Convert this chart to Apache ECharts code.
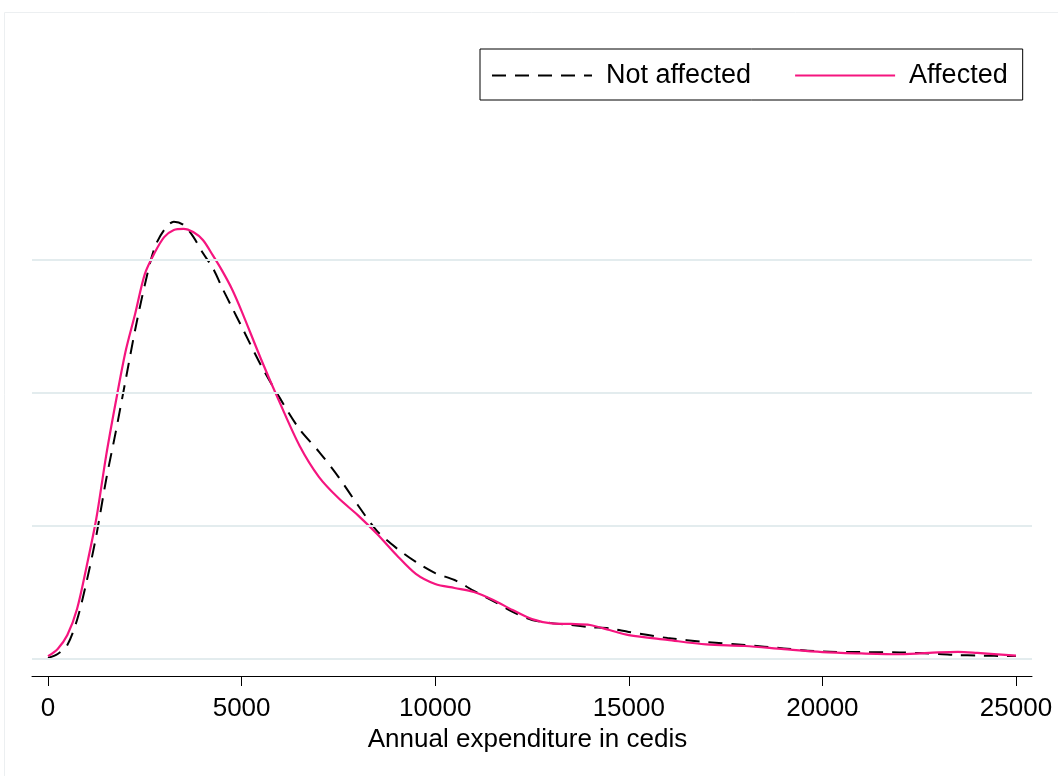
<!DOCTYPE html>
<html>
<head>
<meta charset="utf-8">
<script src="https://cdn.jsdelivr.net/npm/echarts@6/dist/echarts.min.js"></script>
<style>
  html, body { margin: 0; padding: 0; background: #ffffff; }
  #chart { width: 1058px; height: 776px; }
</style>
</head>
<body>
<div id="chart"></div>
<script>
// Kernel density of annual expenditure (density values in units of 1e-5)
const expenditure = [0, 250, 500, 750, 1000, 1250, 1500, 1750, 2000, 2250, 2500, 2750, 3000, 3250, 3500, 3750,
  4000, 4250, 4500, 4750, 5000, 5500, 6000, 6500, 7000, 7500, 8000, 8500, 9000, 9500, 10000, 10500, 11000,
  11500, 12000, 12500, 13000, 13500, 14000, 14500, 15000, 16000, 17000, 18000, 19000, 20000, 21000, 22000,
  23000, 23500, 24000, 25000];

const notAffected = [0.02, 0.17, 0.51, 1.45, 2.91, 4.64, 6.71, 8.52, 10.43, 12.35, 14.04, 15.43, 16.11, 16.42, 16.30, 15.86,
  15.24, 14.7, 13.93, 13.2, 12.48, 11.02, 9.76, 8.61, 7.77, 6.83, 5.77, 4.79, 4.15, 3.63, 3.21, 2.95, 2.54,
  2.16, 1.75, 1.45, 1.33, 1.26, 1.18, 1.13, 1.0, 0.77, 0.62, 0.51, 0.38, 0.26, 0.24, 0.23,
  0.17, 0.13, 0.11, 0.09];

const affected = [0.09, 0.36, 0.88, 1.86, 3.48, 5.28, 7.61, 9.64, 11.52, 12.95, 14.45, 15.24, 15.84, 16.11, 16.15, 16.03,
  15.73, 15.17, 14.57, 13.89, 13.06, 11.26, 9.57, 7.99, 6.82, 6.03, 5.39, 4.68, 3.89, 3.18, 2.80, 2.65, 2.50,
  2.20, 1.82, 1.48, 1.32, 1.30, 1.26, 1.07, 0.88, 0.70, 0.53, 0.47, 0.35, 0.24, 0.19, 0.16,
  0.23, 0.25, 0.21, 0.11];

const xTicks = [0, 5000, 10000, 15000, 20000, 25000];
const yGrid = [0, 5, 10, 15];
const seriesNames = ['Not affected', 'Affected'];

const pairs = (ys) => expenditure.map((x, i) => [x, ys[i]]);

const FONT = '"Liberation Sans", Arial, sans-serif';
const chart = echarts.init(document.getElementById('chart'), null, { renderer: 'canvas' });

chart.setOption({
  animation: false,
  backgroundColor: '#ffffff',
  textStyle: { fontFamily: FONT },
  graphic: [{
    type: 'rect',
    shape: { x: 4.5, y: 12.5, width: 1100, height: 800 },
    style: { fill: 'none', stroke: '#eceff1', lineWidth: 1 },
    silent: true,
    z: 0
  }],
  grid: { left: 32, right: 26, top: 40, bottom: 117.5 },
  legend: {
    left: 480,
    top: 49,
    orient: 'horizontal',
    data: seriesNames,
    itemWidth: 100,
    itemHeight: 14,
    itemGap: 43,
    padding: [13, 15, 11, 11],
    borderColor: '#000000',
    borderWidth: 1,
    borderRadius: 0,
    backgroundColor: '#ffffff',
    itemStyle: { opacity: 0 },
    textStyle: { fontFamily: FONT, fontSize: 27, color: '#000000', padding: [0, 0, 0, 9] }
  },
  xAxis: {
    type: 'value',
    min: -413.2,
    max: 25413.2,
    offset: 17.5,
    name: 'Annual expenditure in cedis',
    nameLocation: 'middle',
    nameGap: 42,
    nameTextStyle: { fontFamily: FONT, fontSize: 26, color: '#000000', padding: [0, 9, 0, 0] },
    axisLine: { show: true, onZero: false, lineStyle: { color: '#000000', width: 1 } },
    axisTick: { show: true, length: 10, customValues: xTicks, lineStyle: { color: '#000000', width: 1 } },
    axisLabel: {
      customValues: xTicks,
      formatter: (v) => String(v),
      fontFamily: FONT, fontSize: 26, color: '#000000', margin: 20
    },
    splitLine: { show: false }
  },
  yAxis: {
    type: 'value',
    min: 0,
    max: 23.25,
    show: false,
    splitLine: { show: false }
  },
  series: [
    {
      name: 'grid',
      type: 'line',
      data: [],
      silent: true,
      z: 1,
      markLine: {
        silent: true,
        symbol: 'none',
        label: { show: false },
        lineStyle: { color: '#e3ecee', width: 2, type: 'solid' },
        data: yGrid.map(v => ({ yAxis: v }))
      }
    },
    {
      name: seriesNames[0],
      type: 'line',
      data: pairs(notAffected),
      smooth: 0.3,
      showSymbol: false,
      symbol: 'none',
      z: 3,
      lineStyle: { color: '#000000', width: 2, type: [14, 9] },
      itemStyle: { color: '#000000' }
    },
    {
      name: seriesNames[1],
      type: 'line',
      data: pairs(affected),
      smooth: 0.3,
      showSymbol: false,
      symbol: 'none',
      z: 4,
      lineStyle: { color: '#f5157f', width: 2.2, type: 'solid' },
      itemStyle: { color: '#f5157f' }
    }
  ]
});
</script>
</body>
</html>
